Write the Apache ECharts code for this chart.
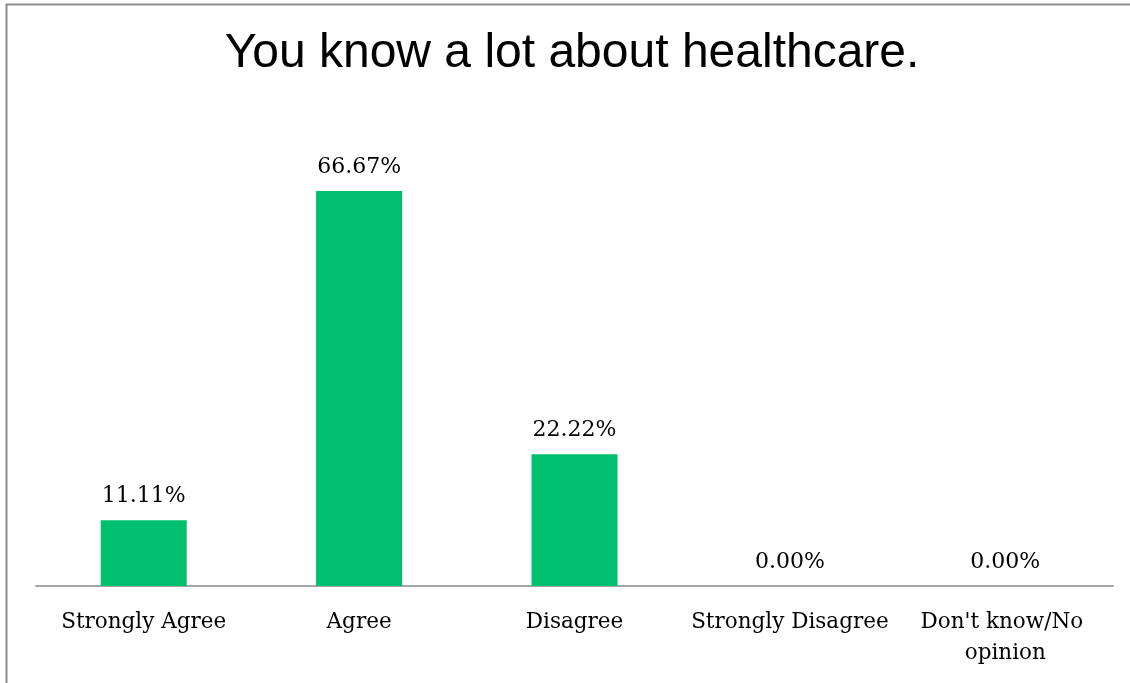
<!DOCTYPE html>
<html>
<head>
<meta charset="utf-8">
<script src="https://cdn.jsdelivr.net/npm/echarts@6/dist/echarts.min.js"></script>
<style>
html,body{margin:0;padding:0;background:#fff;}
#chart{width:1130px;height:683px;}
</style>
</head>
<body>
<div id="chart"></div>
<script>
const titleText = "You know a lot about healthcare.";
const categories = ["Strongly Agree", "Agree", "Disagree", "Strongly Disagree", "Don't know/No opinion"];
const values = [11.11, 66.67, 22.22, 0.00, 0.00];
const yMax = 70;

const chart = echarts.init(document.getElementById('chart'), null, {renderer: 'canvas'});
chart.setOption({
  animation: false,
  backgroundColor: '#ffffff',
  graphic: [{
    type: 'rect',
    shape: {x: 6.5, y: 4.5, width: 1140, height: 700},
    style: {fill: 'none', stroke: '#8c8c8c', lineWidth: 2},
    silent: true
  }],
  title: {
    text: titleText,
    left: 567,
    textAlign: 'center',
    top: 25,
    textStyle: {fontFamily: 'Liberation Sans', fontSize: 48, fontWeight: 'normal', color: '#000'}
  },
  grid: {left: 36, right: 17, top: 586 - 5.925 * yMax, bottom: 97, containLabel: false},
  xAxis: {
    type: 'category',
    data: categories,
    axisLine: {show: true, lineStyle: {color: '#a6a6a6', width: 2}},
    axisTick: {show: false},
    axisLabel: {
      interval: 0,
      margin: 21,
      width: 215,
      overflow: 'break',
      lineHeight: 31,
      fontFamily: 'DejaVu Serif',
      fontSize: 21.5,
      color: '#000'
    }
  },
  yAxis: {
    type: 'value',
    min: 0,
    max: yMax,
    show: false,
    splitLine: {show: false}
  },
  series: [{
    type: 'bar',
    data: values,
    barWidth: 86,
    itemStyle: {color: '#00BF6F'},
    label: {
      show: true,
      position: 'top',
      distance: 13,
      formatter: p => p.value.toFixed(2) + '%',
      fontFamily: 'DejaVu Serif',
      fontSize: 22,
      color: '#000'
    }
  }]
});
</script>
</body>
</html>
